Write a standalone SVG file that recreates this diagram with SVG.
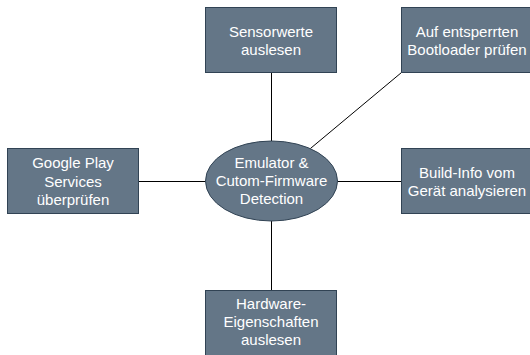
<svg xmlns="http://www.w3.org/2000/svg" width="530" height="355" viewBox="0 0 530 355">
  <style>
    .box { fill: #647687; stroke: #314354; stroke-width: 1; }
    .lbl { fill: #ffffff; font-family: "Liberation Sans", Arial, sans-serif; font-size: 15px; text-anchor: middle; }
    .edge { stroke: #000000; stroke-width: 1; fill: none; }
  </style>
  <rect width="530" height="355" fill="#ffffff"/>

  <g id="connectors">
    <line class="edge" x1="271.5" y1="72.5" x2="271.5" y2="141"/>
    <line class="edge" x1="271.5" y1="221" x2="271.5" y2="290.5"/>
    <line class="edge" x1="138.5" y1="181.5" x2="205.5" y2="181.5"/>
    <line class="edge" x1="337.5" y1="181.5" x2="401.5" y2="181.5"/>
    <line class="edge" x1="310.3" y1="148.6" x2="401.5" y2="72.5"/>
  </g>

  <g id="center">
    <ellipse class="box" cx="271.5" cy="181" rx="66" ry="40"/>
    <text class="lbl" x="271.5" y="168">Emulator &amp;</text>
    <text class="lbl" x="271.5" y="186">Cutom-Firmware</text>
    <text class="lbl" x="271.5" y="204">Detection</text>
  </g>

  <g id="sensorwerte">
    <rect class="box" x="205.5" y="7.5" width="131" height="65"/>
    <text class="lbl" x="271" y="37">Sensorwerte</text>
    <text class="lbl" x="271" y="55">auslesen</text>
  </g>

  <g id="bootloader">
    <rect class="box" x="401.5" y="7.5" width="131" height="65"/>
    <text class="lbl" x="467" y="37">Auf entsperrten</text>
    <text class="lbl" x="467" y="55">Bootloader prüfen</text>
  </g>

  <g id="playservices">
    <rect class="box" x="7.5" y="148.5" width="131" height="65"/>
    <text class="lbl" x="73" y="168">Google Play</text>
    <text class="lbl" x="73" y="186.5">Services</text>
    <text class="lbl" x="73" y="204.5">überprüfen</text>
  </g>

  <g id="buildinfo">
    <rect class="box" x="401.5" y="148.5" width="131" height="65"/>
    <text class="lbl" x="467" y="177.5">Build-Info vom</text>
    <text class="lbl" x="467" y="195.5">Gerät analysieren</text>
  </g>

  <g id="hardware">
    <rect class="box" x="205.5" y="290.5" width="131" height="65"/>
    <text class="lbl" x="271" y="308.5">Hardware-</text>
    <text class="lbl" x="271" y="326.5">Eigenschaften</text>
    <text class="lbl" x="271" y="344.5">auslesen</text>
  </g>
</svg>
